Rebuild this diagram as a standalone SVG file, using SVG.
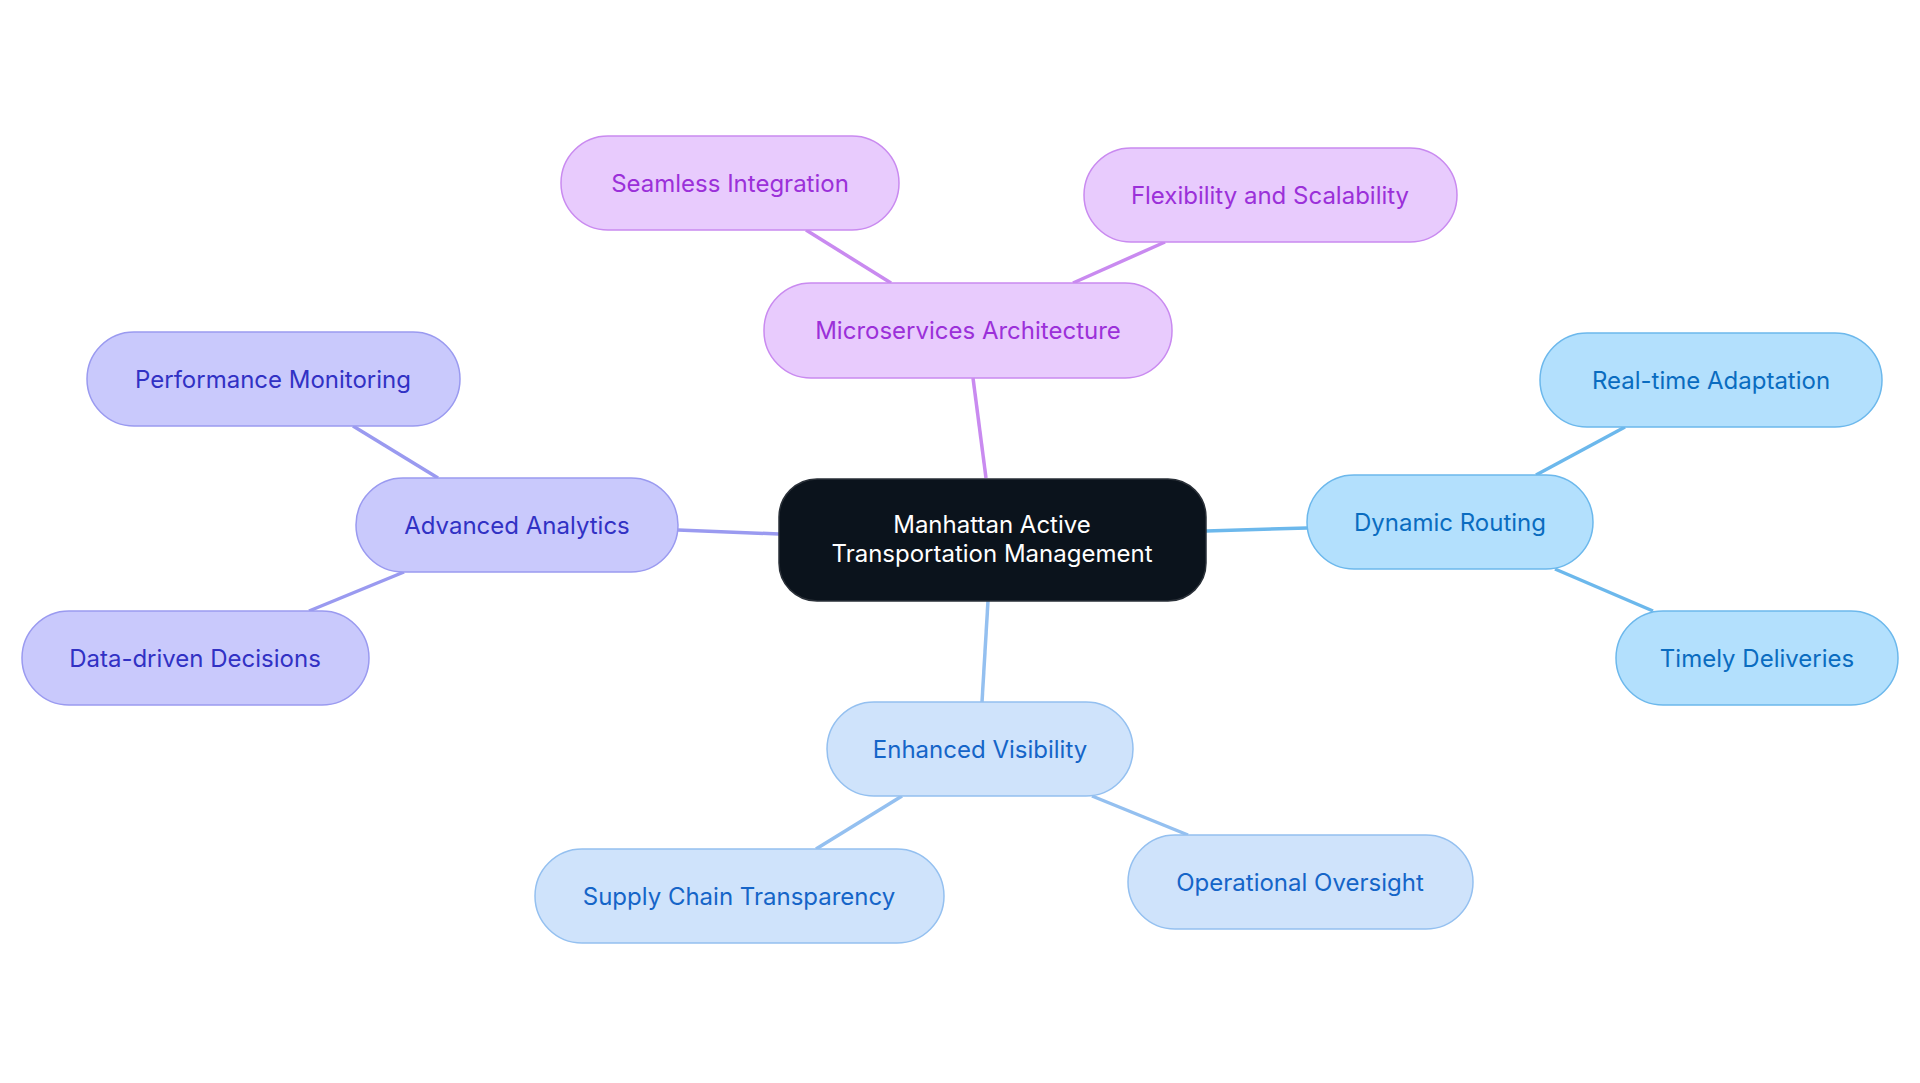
<svg xmlns="http://www.w3.org/2000/svg" width="1920" height="1083" viewBox="0 0 1920 1083">
<style>
text{font-family:Inter,"Noto Sans","Liberation Sans",sans-serif;font-size:24px;text-anchor:middle;dominant-baseline:central}
rect{stroke-width:1.5}
.p rect{fill:#e8cbfd;stroke:#c98af0}.p text{fill:#9b30d9}
.v rect{fill:#c9c9fc;stroke:#9a9af0}.v text{fill:#3131c4}
.b rect{fill:#b3e0fd;stroke:#6cb8ec}.b text{fill:#0a6cc0}
.l rect{fill:#cfe3fb;stroke:#94c0f0}.l text{fill:#1565c8}
#edges line{stroke-width:3.5}
</style>
<rect width="1920" height="1083" fill="#fff" style="stroke:none"/>
<g id="edges">
<line x1="986" y1="478" x2="973" y2="378" stroke="#c98af0"/>
<line x1="891" y1="283" x2="806" y2="230" stroke="#c98af0"/>
<line x1="1073" y1="283" x2="1165" y2="242" stroke="#c98af0"/>
<line x1="779" y1="534" x2="678" y2="530" stroke="#9a9af0"/>
<line x1="438" y1="478" x2="353" y2="426" stroke="#9a9af0"/>
<line x1="404" y1="572" x2="309" y2="611" stroke="#9a9af0"/>
<line x1="1206" y1="531" x2="1307" y2="528" stroke="#6cb8ec"/>
<line x1="1536" y1="475" x2="1625" y2="427" stroke="#6cb8ec"/>
<line x1="1555" y1="569" x2="1653" y2="611" stroke="#6cb8ec"/>
<line x1="988" y1="601" x2="982" y2="702" stroke="#94c0f0"/>
<line x1="902" y1="796" x2="816" y2="849" stroke="#94c0f0"/>
<line x1="1092" y1="796" x2="1188" y2="835" stroke="#94c0f0"/>
</g>
<g id="center"><rect x="779" y="479" width="427" height="122" rx="38" fill="#0b131c" stroke="#2a3038"/><text x="992" y="524" fill="#fff">Manhattan Active</text><text x="992" y="553" fill="#fff">Transportation Management</text></g>
<g id="micro" class="p"><rect x="764" y="283" width="408" height="95" rx="47"/><text x="968" y="330">Microservices Architecture</text></g>
<g id="seamless" class="p"><rect x="561" y="136" width="338" height="94" rx="47"/><text x="730" y="183">Seamless Integration</text></g>
<g id="flex" class="p"><rect x="1084" y="148" width="373" height="94" rx="47"/><text x="1270" y="195">Flexibility and Scalability</text></g>
<g id="adv" class="v"><rect x="356" y="478" width="322" height="94" rx="47"/><text x="517" y="525">Advanced Analytics</text></g>
<g id="perf" class="v"><rect x="87" y="332" width="373" height="94" rx="47"/><text x="273" y="379">Performance Monitoring</text></g>
<g id="data" class="v"><rect x="22" y="611" width="347" height="94" rx="47"/><text x="195" y="658">Data-driven Decisions</text></g>
<g id="dyn" class="b"><rect x="1307" y="475" width="286" height="94" rx="47"/><text x="1450" y="522">Dynamic Routing</text></g>
<g id="real" class="b"><rect x="1540" y="333" width="342" height="94" rx="47"/><text x="1711" y="380">Real-time Adaptation</text></g>
<g id="timely" class="b"><rect x="1616" y="611" width="282" height="94" rx="47"/><text x="1757" y="658">Timely Deliveries</text></g>
<g id="enh" class="l"><rect x="827" y="702" width="306" height="94" rx="47"/><text x="980" y="749">Enhanced Visibility</text></g>
<g id="supply" class="l"><rect x="535" y="849" width="409" height="94" rx="47"/><text x="739" y="896">Supply Chain Transparency</text></g>
<g id="oper" class="l"><rect x="1128" y="835" width="345" height="94" rx="47"/><text x="1300" y="882">Operational Oversight</text></g>
</svg>
